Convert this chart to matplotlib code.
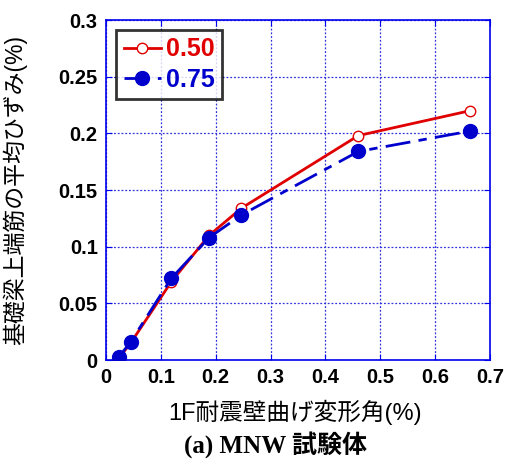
import matplotlib
matplotlib.use('Agg')
import matplotlib.pyplot as plt

plt.rcParams['font.family'] = ['Liberation Sans', 'Noto Sans CJK JP', 'DejaVu Sans']

x_050 = [0.024, 0.045, 0.119, 0.188, 0.247, 0.460, 0.664]
y_050 = [0.002, 0.015, 0.069, 0.110, 0.134, 0.198, 0.220]
x_075 = [0.024, 0.045, 0.119, 0.188, 0.247, 0.460, 0.664]
y_075 = [0.003, 0.016, 0.072, 0.108, 0.128, 0.184, 0.202]

labels = ['0.50', '0.75']

fig = plt.figure(figsize=(5.08, 4.67), dpi=100)
ax = fig.add_axes([106 / 508, 1 - 360 / 467, 384 / 508, 340 / 467])

ax.plot(x_050, y_050, color='#e00000', lw=2, marker='o', ms=7.5, mfc='white',
        mec='#e00000', mew=1, label=labels[0], zorder=3)
ax.plot(x_075, y_075, color='#0000cc', lw=2, marker='o', ms=10, mfc='#0000cc',
        mec='#0000cc', dashes=(9, 3, 3, 3), label=labels[1], zorder=4)

ax.set_xlim(0, 0.7)
ax.set_ylim(0, 0.3)
ax.set_xticks([0, 0.1, 0.2, 0.3, 0.4, 0.5, 0.6, 0.7])
ax.set_yticks([0, 0.05, 0.1, 0.15, 0.2, 0.25, 0.3])
ax.set_xticklabels(['0', '0.1', '0.2', '0.3', '0.4', '0.5', '0.6', '0.7'])
ax.set_yticklabels(['0', '0.05', '0.1', '0.15', '0.2', '0.25', '0.3'])
ax.grid(True, color='#3333dd', linestyle=(0, (1.5, 1.5)), lw=0.9)
for s in ax.spines.values():
    s.set_color('#0000ee')
    s.set_linewidth(1.2)
ax.tick_params(direction='in', length=4, color='#0000ee', top=True, right=True,
               labelsize=14.5, pad=6)
for t in ax.get_xticklabels() + ax.get_yticklabels():
    t.set_fontweight('bold')

ax.set_ylabel('基礎梁上端筋の平均ひずみ(%)', fontsize=16.5)
ax.yaxis.set_label_coords(-0.206, 0.5)
fig.text(295 / 508, 1 - 412 / 467, '1F耐震壁曲げ変形角(%)', fontsize=17,
         ha='center', va='center')
fig.text(275 / 508, 1 - 445 / 467, '(a) MNW 試験体', fontsize=18, fontweight='bold',
         family=['Liberation Serif', 'Noto Sans CJK JP'], ha='center', va='center')

leg = ax.legend(loc='upper left', bbox_to_anchor=(0.0, 1.0), fontsize=18,
                frameon=True, fancybox=False, handlelength=1.5, handletextpad=0.2,
                borderpad=0.3, labelspacing=0.25, borderaxespad=0.4)
leg.get_frame().set_edgecolor('black')
leg.get_frame().set_linewidth(2)
for txt, c in zip(leg.get_texts(), ['#e00000', '#0000cc']):
    txt.set_color(c)
    txt.set_fontweight('bold')

fig.savefig('out.png', dpi=100)
